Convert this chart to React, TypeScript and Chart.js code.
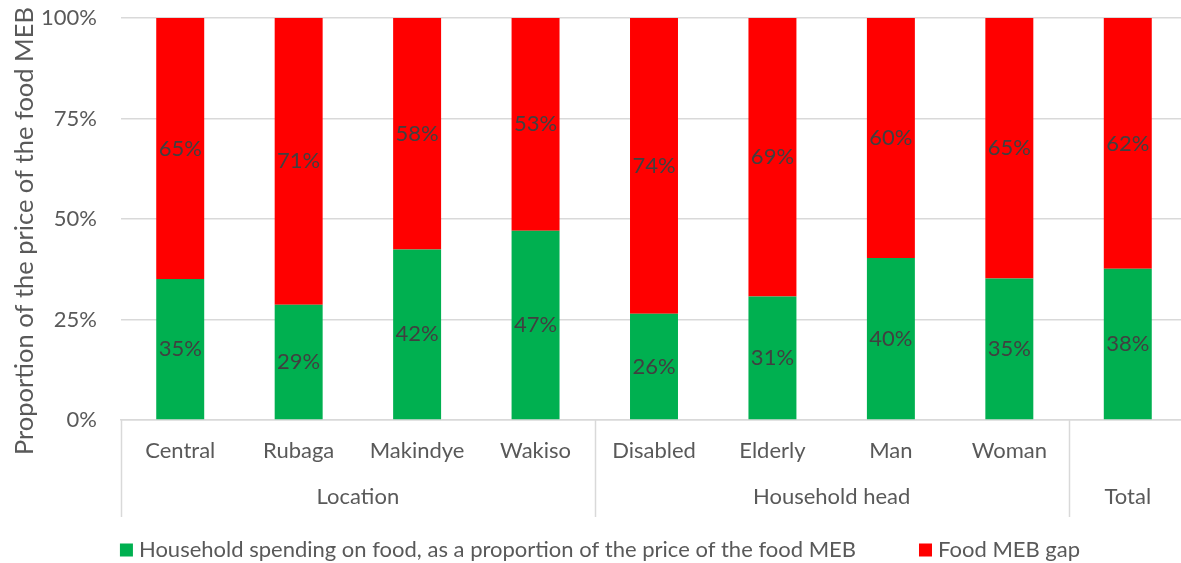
import React, { useEffect, useRef } from "react";
import { Chart, registerables } from "chart.js";

Chart.register(...registerables);

const categories = ["Central", "Rubaga", "Makindye", "Wakiso", "Disabled", "Elderly", "Man", "Woman", ""];
const groupLabels = ["Location", "Household head", "Total"];
const groupStarts = [0, 4, 8];
const groupEnds = [3, 7, 8];
const spendingOnFood = [35.1, 28.7, 42.4, 47.1, 26.4, 30.7, 40.3, 35.2, 37.6];
const mebGap = [64.9, 71.3, 57.6, 52.9, 73.6, 69.3, 59.7, 64.8, 62.4];
const seriesNames = [
  "Household spending on food, as a proportion of the price of the food MEB",
  "Food MEB gap",
];
const seriesColors = ["#00B050", "#FF0000"];
const yTickValues = [0, 25, 50, 75, 100];
const yTitle = "Proportion of the price of the food MEB";

const FONT = "Lato, 'Noto Sans', sans-serif";
const GRID = "#D9D9D9";
const TEXT = "#595959";

const dataLabelPlugin = {
  id: "dataLabels",
  afterDatasetsDraw(chart: any) {
    const ctx = chart.ctx;
    ctx.save();
    ctx.font = `22px ${FONT}`;
    ctx.fillStyle = "#404040";
    ctx.textAlign = "center";
    ctx.textBaseline = "middle";
    chart.data.datasets.forEach((ds: any, di: number) => {
      const meta = chart.getDatasetMeta(di);
      meta.data.forEach((el: any, i: number) => {
        const { x, y, base } = el.getProps(["x", "y", "base"], true);
        const v = ds.data[i];
        ctx.fillText(`${Math.round(v)}%`, x, (y + base) / 2);
      });
    });
    ctx.restore();
  },
};

const groupAxisPlugin = {
  id: "groupAxis",
  afterDraw(chart: any) {
    const ctx = chart.ctx;
    const xs = chart.scales.x;
    const area = chart.chartArea;
    const step = (area.right - area.left) / categories.length;
    const lineBottom = 517;
    ctx.save();
    ctx.strokeStyle = GRID;
    ctx.lineWidth = 1.5;
    const bounds: number[] = [];
    groupStarts.forEach((s) => bounds.push(xs.getPixelForValue(s) - step / 2));
    bounds.push(xs.getPixelForValue(groupEnds[groupEnds.length - 1]) + step / 2);
    bounds.forEach((bx) => {
      ctx.beginPath();
      ctx.moveTo(Math.round(bx) + 0.5, area.bottom);
      ctx.lineTo(Math.round(bx) + 0.5, lineBottom);
      ctx.stroke();
    });
    ctx.font = `22px ${FONT}`;
    ctx.fillStyle = TEXT;
    ctx.textAlign = "center";
    ctx.textBaseline = "middle";
    groupLabels.forEach((g, i) => {
      const x0 = xs.getPixelForValue(groupStarts[i]) - step / 2;
      const x1 = xs.getPixelForValue(groupEnds[i]) + step / 2;
      ctx.fillText(g, (x0 + x1) / 2, 497);
    });

    // y-axis title
    ctx.save();
    ctx.font = `25.5px ${FONT}`;
    ctx.translate(25, (area.top + area.bottom) / 2 + 12);
    ctx.rotate(-Math.PI / 2);
    ctx.fillText(yTitle, 0, 0);
    ctx.restore();

    // legend
    ctx.font = `22px ${FONT}`;
    ctx.textAlign = "left";
    const box = 13;
    const gapBoxText = 6;
    const gapItems = 63;
    const widths = seriesNames.map((n) => box + gapBoxText + ctx.measureText(n).width);
    const total = widths.reduce((a, b) => a + b, 0) + gapItems * (widths.length - 1);
    let x = 600 - total / 2;
    const ly = 550;
    seriesNames.forEach((n, i) => {
      ctx.fillStyle = seriesColors[i];
      ctx.fillRect(x, ly - box / 2, box, box);
      ctx.fillStyle = TEXT;
      ctx.fillText(n, x + box + gapBoxText, ly);
      x += widths[i] + gapItems;
    });
    ctx.restore();
  },
};

export default function App() {
  const ref = useRef<HTMLCanvasElement>(null);
  useEffect(() => {
    if (!ref.current) return;
    const chart = new Chart(ref.current, {
      type: "bar",
      data: {
        labels: categories,
        datasets: [
          {
            label: seriesNames[0],
            data: spendingOnFood,
            backgroundColor: seriesColors[0],
            borderWidth: 0,
            barPercentage: 0.405,
            categoryPercentage: 1,
          },
          {
            label: seriesNames[1],
            data: mebGap,
            backgroundColor: seriesColors[1],
            borderWidth: 0,
            barPercentage: 0.405,
            categoryPercentage: 1,
          },
        ],
      },
      options: {
        animation: false,
        responsive: false,
        maintainAspectRatio: false,
        layout: { padding: { top: 18, right: 1, left: 0, bottom: 45 } },
        font: { family: FONT },
        plugins: {
          tooltip: { enabled: false },
          legend: { display: false },
        },
        scales: {
          x: {
            stacked: true,
            grid: { display: false, drawTicks: false },
            border: { display: true, color: GRID, width: 1.5 },
            ticks: {
              font: { family: FONT, size: 22 },
              color: TEXT,
              padding: 18,
              maxRotation: 0,
              autoSkip: false,
            },
            afterFit(scale: any) {
              scale.height = 98;
              scale.paddingLeft = 0;
              scale.paddingRight = 0;
            },
          },
          y: {
            stacked: true,
            min: 0,
            max: 100,
            afterBuildTicks(scale: any) {
              scale.ticks = yTickValues.map((v) => ({ value: v }));
            },
            grid: { color: GRID, lineWidth: 1.5, drawTicks: false },
            border: { display: false },
            ticks: {
              font: { family: FONT, size: 22 },
              color: TEXT,
              padding: 24,
              callback: (v: any) => `${v}%`,
            },
            afterFit(scale: any) {
              scale.width = 121;
              scale.paddingTop = 0;
              scale.paddingBottom = 0;
            },
          },
        },
      },
      plugins: [dataLabelPlugin, groupAxisPlugin],
    });
    return () => chart.destroy();
  }, []);
  return (
    <div style={{ position: "fixed", left: 0, top: 0, width: 1181, height: 563, overflow: "hidden", background: "#fff" }}>
      <canvas ref={ref} width={1188} height={563} style={{ display: "block" }} />
    </div>
  );
}
